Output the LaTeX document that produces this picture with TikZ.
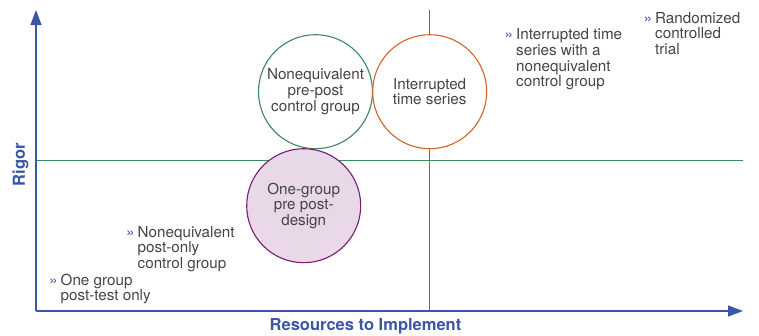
\documentclass[tikz,border=0pt]{standalone}
\usepackage{fontspec}
\setmainfont{TeX Gyre Heros}
\usetikzlibrary{arrows.meta}
\definecolor{axisblue}{RGB}{58,86,164}
\definecolor{gridgreen}{RGB}{58,138,92}
\definecolor{circgreen}{RGB}{60,135,95}
\definecolor{circorange}{RGB}{212,100,42}
\definecolor{circpurple}{RGB}{118,28,118}
\definecolor{purplefill}{RGB}{232,216,232}
\definecolor{txtgray}{RGB}{68,68,68}
\definecolor{bulcol}{RGB}{80,80,160}
\newcommand{\bul}{\llap{{\color{bulcol}\fontsize{15.5}{15.5}\selectfont »}\hspace{3pt}}}
\newcommand{\lbl}[1]{\fontsize{15.2}{15.6}\selectfont\begin{tabular}[t]{@{}l@{}}#1\end{tabular}}
\begin{document}
\begin{tikzpicture}[x=1pt,y=-1pt,
  axisline/.style={draw=axisblue,line width=1.1pt,-{Triangle[length=15pt,width=11pt]}},
  gridline/.style={draw=gridgreen,line width=1pt},
  design/.style={circle,minimum size=114pt,inner sep=0pt,line width=1.1pt,align=center,
     text=txtgray,font=\fontsize{15.2}{15.6}\selectfont,fill=white},
  bullettext/.style={anchor=base west,inner sep=0pt,text=txtgray},
  axislabel/.style={text=axisblue,font=\fontsize{16.5}{16.5}\selectfont\bfseries,inner sep=0pt}]
\useasboundingbox (0,0) rectangle (759,335);
% coordinates
\coordinate (origin) at (36,311);
\coordinate (ytip) at (36,10);
\coordinate (xtip) at (743,311);
\coordinate (hl) at (36,160.5);
\coordinate (hr) at (743,160.5);
\coordinate (vt) at (429.5,10);
\coordinate (vb) at (429.5,311);
% grid lines
\draw[gridline] (hl) -- (hr);
\draw[gridline] (vt) -- (vb);
% axes
\draw[axisline] (origin) -- (ytip);
\draw[axisline] (origin) -- (xtip);
% circles
\node[design,draw=circgreen] (nepp) at (315.5,91.7) {Nonequivalent\\pre-post\\control group};
\node[design,draw=circorange] (its) at (429.7,91.7) {Interrupted\\time series};
\node[design,draw=circpurple,fill=purplefill] (ogpp) at (303.7,205.7) {One-group\\pre post-\\design};
% bullet texts
\node[bullettext] (ogpt) at (60.5,285) {\lbl{\bul One group\\post-test only}};
\node[bullettext] (nepo) at (137.5,237) {\lbl{\bul Nonequivalent\\post-only\\control group}};
\node[bullettext] (itsn) at (516,39.5) {\lbl{\bul Interrupted time\\series with a\\nonequivalent\\control group}};
\node[bullettext] (rct) at (655,23) {\lbl{\bul Randomized\\controlled\\trial}};
% axis labels
\node[axislabel,rotate=90] (rigor) at (20.5,164.5) {Rigor};
\node[axislabel] (res) at (365.5,326) {Resources to Implement};
\end{tikzpicture}
\end{document}
